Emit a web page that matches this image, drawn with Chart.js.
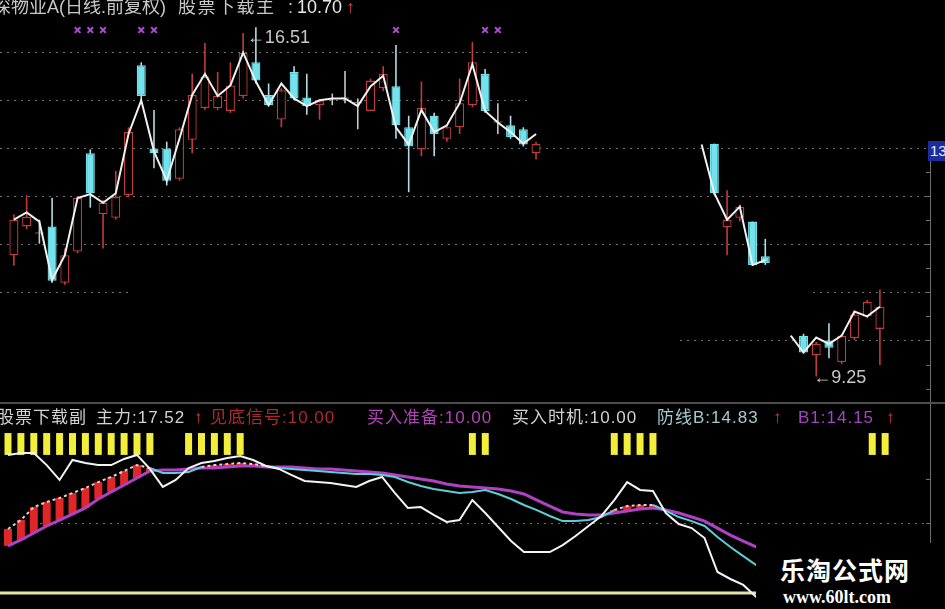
<!DOCTYPE html>
<html>
<head>
<meta charset="utf-8">
<title>深物业A 股票下载主/副</title>
<script src="https://cdn.jsdelivr.net/npm/chart.js@4.4.1/dist/chart.umd.min.js"></script>
<style>
    body { margin: 0; background: #000; }
    #wrap {
        position: relative; width: 945px; height: 609px; overflow: hidden; background: #000;
        font-family: "Liberation Sans", "Noto Sans CJK SC", sans-serif;
    }
    #priceBox { position: absolute; left: 0; top: 0; width: 945px; height: 403px; }
    #indBox { position: absolute; left: 0; top: 403px; width: 945px; height: 206px; }
    .t { position: absolute; white-space: nowrap; line-height: 1; letter-spacing: 1px; }
    .top { top: -2px; font-size: 18px; color: #c8c8c8; letter-spacing: 0; }
    .sub { top: 409px; font-size: 17px; color: #d2d2d2; }
    .up { color: #e03c3c; }
    #sep { position: absolute; left: 0; top: 402px; width: 945px; height: 2px; background: #4e4e4e; }
    #priceTag {
        position: absolute; left: 928px; top: 141px; width: 20px; height: 20px; background: #1c2c9e;
        color: #e6ecff; font-size: 15px; line-height: 20px; padding-left: 2px; overflow: hidden; white-space: nowrap;
    }
    #mark { position: absolute; left: 756px; top: 543px; width: 189px; height: 66px; background: #000; }
    #mark .cn { position: absolute; left: 24px; top: 14px; font: 700 25px "Noto Sans CJK SC"; color: #fff; line-height: 1; letter-spacing: 1px; }
    #mark .url { position: absolute; left: 27px; top: 45px; font: 700 18px "Liberation Serif"; color: #fff; line-height: 1; }
</style>
</head>
<body>
<div id="wrap">
    <div id="priceBox"><canvas id="priceChart" width="945" height="403"></canvas></div>
    <div id="indBox"><canvas id="indChart" width="945" height="206"></canvas></div>
    <div id="sep"></div>

    <!-- main panel header -->
    <span class="t top" style="left:-7px">深物业A(日线.前复权)</span>
    <span class="t top" style="left:178px;letter-spacing:1.5px">股票下载主</span>
    <span class="t top" style="left:288px">:</span>
    <span class="t top" style="left:297px;color:#e8e8e8">10.70</span>
    <span class="t top up" style="left:346px">↑</span>

    <!-- indicator panel header -->
    <span class="t sub" style="left:-3px">股票下载副</span>
    <span class="t sub" style="left:96px">主力:17.52</span>
    <span class="t sub up" style="left:194px">↑</span>
    <span class="t sub" style="left:210px;color:#ac2a2a">见底信号:10.00</span>
    <span class="t sub" style="left:367px;color:#b244b8">买入准备:10.00</span>
    <span class="t sub" style="left:512px;color:#d2d2d2">买入时机:10.00</span>
    <span class="t sub" style="left:657px;color:#a4cad2">防线B:14.83</span>
    <span class="t sub up" style="left:773px">↑</span>
    <span class="t sub" style="left:798px;color:#a444c4">B1:14.15</span>
    <span class="t sub up" style="left:886px">↑</span>

    <div id="priceTag">13.93</div>
    <div id="mark"><span class="cn">乐淘公式网</span><span class="url">www.60lt.com</span></div>
</div>

<script>
// Price panel: one slot per trading day, null = not drawn
const candleOpen = [
    11.77, 12.37, 12.22, 12.37, 11.20, 11.85, 13.89, 12.62, 12.55, 13.02,
    15.72, 13.99, 13.99, 13.36, 14.17, 14.83, 14.83, 14.77, 15.08, 15.78,
    15.10, 14.59, 15.58, 15.05, 14.89, 15.01, 15.03, 14.93, 14.77, 15.24,
    15.28, 14.43, 13.97, 14.67, 14.19, 14.43, 14.89, 15.54, 14.53, 14.47,
    14.39, 13.89, null, null, null, null, null, null, null, null,
    null, null, null, null, null, 14.09, 12.35, 12.55, 12.47, 11.75,
    null, null, 10.10, 9.69, 10.00, 9.55, 10.05, 10.50, 10.24
];
const candleClose = [
    12.51, 12.57, 12.22, 11.24, 11.77, 12.96, 13.06, 12.86, 12.98, 14.33,
    15.08, 13.89, 13.32, 14.39, 15.10, 15.48, 15.08, 15.30, 15.98, 15.40,
    14.89, 15.20, 15.03, 14.87, 14.97, 15.01, 15.03, 14.93, 15.40, 15.54,
    14.47, 14.03, 14.83, 14.29, 14.43, 14.93, 15.78, 14.77, 14.53, 14.23,
    14.07, 14.09, null, null, null, null, null, null, null, null,
    null, null, null, null, null, 13.06, 12.51, 12.78, 11.57, 11.61,
    null, null, 9.75, 9.93, 9.85, 10.10, 10.54, 10.80, 10.70
];
const candleHigh = [
    12.62, 13.02, 12.51, 12.96, 11.91, 13.00, 13.97, 12.92, 13.52, 14.43,
    15.78, 14.79, 14.13, 14.43, 15.54, 16.18, 15.58, 15.78, 16.39, 16.51,
    15.34, 15.24, 15.70, 15.54, 15.01, 15.13, 15.60, 15.03, 15.44, 15.70,
    16.14, 14.67, 15.38, 14.73, 14.49, 15.44, 16.20, 15.64, 14.93, 14.67,
    14.43, 14.13, null, null, null, null, null, null, null, null,
    null, null, null, null, null, 14.09, 13.12, 12.82, 12.47, 12.11,
    null, null, 10.14, 9.97, 10.36, 10.14, 10.60, 10.84, 11.06
];
const candleLow = [
    11.55, 12.31, 12.01, 11.20, 11.16, 11.81, 12.76, 11.91, 12.51, 12.98,
    14.99, 13.58, 13.22, 13.32, 13.89, 14.79, 14.79, 14.73, 15.03, 15.34,
    14.87, 14.43, 14.99, 14.69, 14.59, 14.89, 14.93, 14.39, 14.77, 15.18,
    14.19, 13.08, 13.83, 13.83, 14.13, 14.29, 14.85, 14.73, 14.29, 14.19,
    14.03, 13.76, null, null, null, null, null, null, null, null,
    null, null, null, null, null, 13.02, 11.77, 12.47, 11.55, 11.57,
    null, null, 9.73, 9.25, 9.63, 9.51, 10.01, 10.46, 9.49
];
// 股票下载主 white line
const mainLine = [
    12.51, 12.66, 12.47, 11.26, 11.77, 12.96, 13.04, 12.86, 13.06, 14.29,
    14.99, 13.93, 13.32, 14.19, 15.10, 15.54, 15.08, 15.30, 15.98, 15.38,
    14.89, 15.34, 15.03, 14.87, 14.99, 15.03, 15.03, 14.87, 15.28, 15.50,
    14.43, 14.07, 14.79, 14.33, 14.47, 14.93, 15.74, 14.77, 14.53, 14.33,
    14.09, 14.29, null, null, null, null, null, null, null, null,
    null, null, null, null, 14.07, 13.06, 12.51, 12.78, 11.57, 11.67,
    null, 10.10, 9.75, 10.06, 9.93, 10.10, 10.60, 10.50, 10.70
];
// purple "x" signals above the candles
const markerDays = [5, 6, 7, 10, 11, 30, 37, 38];
const markerLevel = 16.45;

// Price scale
const gridLevels = [16, 15, 14, 13, 12, 11, 10];
const axisTicks = [13.5, 13, 12.5, 12, 11.5, 11, 10.5, 10, 9.5, 9];

// Indicator panel (股票下载副)
const forceLine = [
    88.9, 90.0, 90.0, 83.1, 74.6, 86.0, 84.3, 83.1, 83.1, 86.6,
    88.9, 80.9, 70.6, 74.6, 81.4, 84.3, 85.4, 87.1, 88.3, 86.0,
    82.6, 80.9, 77.4, 74.0, 73.4, 72.9, 71.7, 70.6, 74.0, 76.3,
    67.1, 58.6, 59.1, 54.6, 50.6, 51.7, 63.1, 55.7, 47.7, 39.7,
    33.4, 33.4, 33.4, 37.4, 42.6, 48.3, 54.0, 63.1, 73.4, 68.9,
    68.3, 55.7, 49.4, 47.1, 41.4, 22.0, 18.0, 14.6, 7.7, 9.5,
    11.0, 12.4, 13.0, 13.8, 14.6, 15.3, 16.0, 16.8, 17.52
];
const defenseB = [
    46.6, 51.7, 59.1, 62.0, 64.3, 67.1, 70.0, 73.4, 76.3, 79.7,
    83.1, 81.4, 78.6, 78.6, 79.1, 82.0, 83.1, 83.7, 84.3, 83.7,
    82.6, 81.4, 80.9, 80.3, 79.7, 79.1, 78.6, 78.0, 78.0, 77.4,
    76.3, 73.4, 71.1, 69.4, 68.3, 67.1, 67.7, 68.9, 66.6, 63.7,
    60.3, 57.4, 54.0, 51.1, 51.1, 51.7, 53.4, 57.4, 59.7, 60.3,
    60.3, 56.9, 53.4, 51.1, 48.3, 42.0, 36.3, 31.1, 26.0, 24.0,
    22.2, 20.6, 19.5, 18.5, 17.6, 16.8, 16.1, 15.4, 14.83
];
const lineB1 = [
    36.9, 40.3, 44.3, 48.3, 51.7, 55.1, 58.6, 63.7, 67.7, 71.7,
    75.7, 79.7, 80.3, 80.3, 80.9, 81.4, 81.4, 82.0, 82.6, 82.6,
    82.0, 82.0, 82.0, 81.4, 80.9, 80.9, 80.3, 79.7, 79.1, 78.6,
    77.4, 76.3, 75.1, 74.0, 72.3, 71.1, 70.6, 70.0, 69.4, 68.3,
    66.6, 63.1, 59.7, 56.3, 55.1, 54.6, 54.6, 55.7, 56.9, 58.0,
    58.6, 57.4, 55.7, 53.4, 51.1, 47.1, 43.1, 39.7, 36.3, 33.5,
    30.8, 28.3, 26.0, 23.8, 21.7, 19.8, 17.9, 16.0, 14.15
];
// yellow signal columns (买入时机)
const signalDays = [0, 1, 2, 3, 4, 5, 6, 7, 8, 9, 10, 11, 14, 15, 16, 17, 18, 36, 37, 47, 48, 49, 50, 67, 68];
const signalLow = 88.9;
const signalHigh = 101.4;
const baseLevel = 10;

// Layout of the day axis (about 12.9 px per day)
const xMin = -0.62;
const xMax = 72.64;

// Colors
const colors = {
    up: '#c23c3c',
    down: '#72e2ec',
    downWick: '#b4dce4',
    flat: '#c8c8c8',
    main: '#f0f0f0',
    marker: '#b04cd0',
    grid: '#707070',
    force: '#f4f4f4',
    defense: '#5ccfd6',
    defenseOver: '#f0cccc',
    b1: '#b040c4',
    stick: '#e02626',
    signal: '#f2ee3a',
    base: '#e6e2a6'
};

function dayKind(i) {
    if (candleClose[i] > candleOpen[i]) return 'up';
    if (candleClose[i] < candleOpen[i]) return 'down';
    return 'flat';
}

function bodyFill(ctx) {
    const k = dayKind(ctx.raw.x);
    return k === 'up' ? '#000' : colors[k];
}

function bodyEdge(ctx) {
    return colors[dayKind(ctx.raw.x)];
}

function wickColor(ctx) {
    const k = dayKind(ctx.raw.x);
    return k === 'down' ? colors.downWick : colors[k];
}

// Dotted horizontal guides
const dottedGrid = {
    id: 'dottedGrid',
    beforeDatasetsDraw(chart, args, opts) {
        const { ctx } = chart;
        const y = chart.scales.y;
        ctx.save();
        ctx.strokeStyle = colors.grid;
        ctx.lineWidth = 1;
        ctx.setLineDash([2, 5]);
        opts.lines.forEach(line => {
            const py = Math.round(y.getPixelForValue(line.value)) + 0.5;
            line.spans.forEach(([a, b]) => {
                ctx.beginPath();
                ctx.moveTo(a, py);
                ctx.lineTo(b, py);
                ctx.stroke();
            });
        });
        ctx.restore();
    }
};

// Right-hand axis stub with small ticks
const rightAxis = {
    id: 'rightAxis',
    afterDraw(chart, args, opts) {
        const { ctx } = chart;
        const y = chart.scales.y;
        ctx.save();
        ctx.strokeStyle = '#6e6e6e';
        ctx.lineWidth = 1;
        ctx.beginPath();
        ctx.moveTo(opts.x + 0.5, opts.top);
        ctx.lineTo(opts.x + 0.5, opts.bottom);
        opts.ticks.forEach(v => {
            const py = Math.round(y.getPixelForValue(v)) + 0.5;
            ctx.moveTo(opts.x - 4, py);
            ctx.lineTo(opts.x, py);
        });
        ctx.stroke();
        ctx.restore();
    }
};

// High / low price notes
const extremes = {
    id: 'extremes',
    afterDatasetsDraw(chart) {
        const { ctx } = chart;
        const { x, y } = chart.scales;
        let hi = -1, lo = -1;
        candleHigh.forEach((v, i) => { if (v !== null && (hi < 0 || v > candleHigh[hi])) hi = i; });
        candleLow.forEach((v, i) => { if (v !== null && (lo < 0 || v < candleLow[lo])) lo = i; });
        ctx.save();
        ctx.font = '18px "Liberation Sans", "DejaVu Sans"';
        ctx.fillStyle = '#c8c8c8';
        ctx.textBaseline = 'middle';
        ctx.fillText('←' + candleHigh[hi].toFixed(2), x.getPixelForValue(hi) - 9, y.getPixelForValue(candleHigh[hi]) + 11);
        ctx.fillText('←' + candleLow[lo].toFixed(2), x.getPixelForValue(lo) - 3, y.getPixelForValue(candleLow[lo]) + 1);
        ctx.restore();
    }
};

function baseOptions(yMin, yMax) {
    return {
        responsive: false,
        animation: false,
        devicePixelRatio: 1,
        layout: { padding: 0 },
        scales: {
            x: { type: 'linear', min: xMin, max: xMax, offset: false, display: false },
            y: { type: 'linear', min: yMin, max: yMax, display: false }
        },
        plugins: { legend: { display: false }, tooltip: { enabled: false } }
    };
}

function drawPriceChart() {
    const days = candleOpen.map((v, i) => i).filter(i => candleOpen[i] !== null);
    const options = baseOptions(8.825, 16.95);
    options.plugins.dottedGrid = {
        lines: gridLevels.map((v, k) => ({
            value: v,
            spans: [[[0, 527]], [[0, 527]], [[0, 930]], [[0, 930]], [[0, 930]], [[0, 130], [813, 930]], [[680, 930]]][k]
        }))
    };
    options.plugins.rightAxis = { x: 930, top: 161, bottom: 403, ticks: axisTicks };

    new Chart(document.getElementById('priceChart'), {
        type: 'bar',
        data: {
            datasets: [{
                type: 'line',
                data: mainLine.map((v, i) => ({ x: i, y: v })),
                borderColor: colors.main,
                borderWidth: 2,
                pointRadius: 0,
                spanGaps: false,
                order: 0
            }, {
                type: 'line',
                data: markerDays.map(i => ({ x: i, y: markerLevel })),
                showLine: false,
                pointStyle: 'crossRot',
                pointRadius: 4,
                borderColor: colors.marker,
                borderWidth: 2,
                order: 0
            }, {
                data: days.map(i => ({ x: i, y: [candleOpen[i], candleClose[i]] })),
                backgroundColor: bodyFill,
                borderColor: bodyEdge,
                borderWidth: 1.3,
                borderSkipped: false,
                grouped: false,
                maxBarThickness: 9,
                minBarLength: 1,
                order: 1
            }, {
                data: days.map(i => ({ x: i, y: [candleLow[i], candleHigh[i]] })),
                backgroundColor: wickColor,
                grouped: false,
                maxBarThickness: 1.6,
                order: 2
            }]
        },
        options: options,
        plugins: [dottedGrid, rightAxis, extremes]
    });
}

function drawIndicatorChart() {
    const over = i => defenseB[i] > lineB1[i];
    const stickDays = defenseB.map((v, i) => i).filter(over);
    const options = baseOptions(0.857, 118.57);
    options.plugins.dottedGrid = { lines: [{ value: 50, spans: [[40, 930]] }] };
    options.plugins.rightAxis = { x: 930, top: 0, bottom: 142, ticks: [75, 50] };

    new Chart(document.getElementById('indChart'), {
        type: 'bar',
        data: {
            datasets: [{
                type: 'line',
                data: forceLine.map((v, i) => ({ x: i, y: v })),
                borderColor: colors.force,
                borderWidth: 2,
                pointRadius: 0,
                order: 0
            }, {
                type: 'line',
                data: defenseB.map((v, i) => ({ x: i, y: v })),
                borderColor: colors.defense,
                borderWidth: 2,
                pointRadius: 0,
                segment: {
                    borderColor: c => over(c.p0DataIndex) && over(c.p1DataIndex) ? colors.defenseOver : undefined,
                    borderDash: c => over(c.p0DataIndex) && over(c.p1DataIndex) ? [3, 3] : undefined
                },
                order: 1
            }, {
                type: 'line',
                data: lineB1.map((v, i) => ({ x: i, y: v })),
                borderColor: colors.b1,
                borderWidth: 3,
                pointRadius: 0,
                order: 2
            }, {
                data: stickDays.map(i => ({ x: i, y: [lineB1[i], defenseB[i]] })),
                backgroundColor: colors.stick,
                grouped: false,
                maxBarThickness: 8,
                order: 3
            }, {
                data: signalDays.map(i => ({ x: i, y: [signalLow, signalHigh] })),
                backgroundColor: colors.signal,
                grouped: false,
                maxBarThickness: 7,
                order: 4
            }, {
                type: 'line',
                data: [{ x: xMin, y: baseLevel }, { x: xMax, y: baseLevel }],
                borderColor: colors.base,
                borderWidth: 3,
                pointRadius: 0,
                order: 5
            }]
        },
        options: options,
        plugins: [dottedGrid, rightAxis]
    });
}

drawPriceChart();
drawIndicatorChart();
</script>
</body>
</html>
